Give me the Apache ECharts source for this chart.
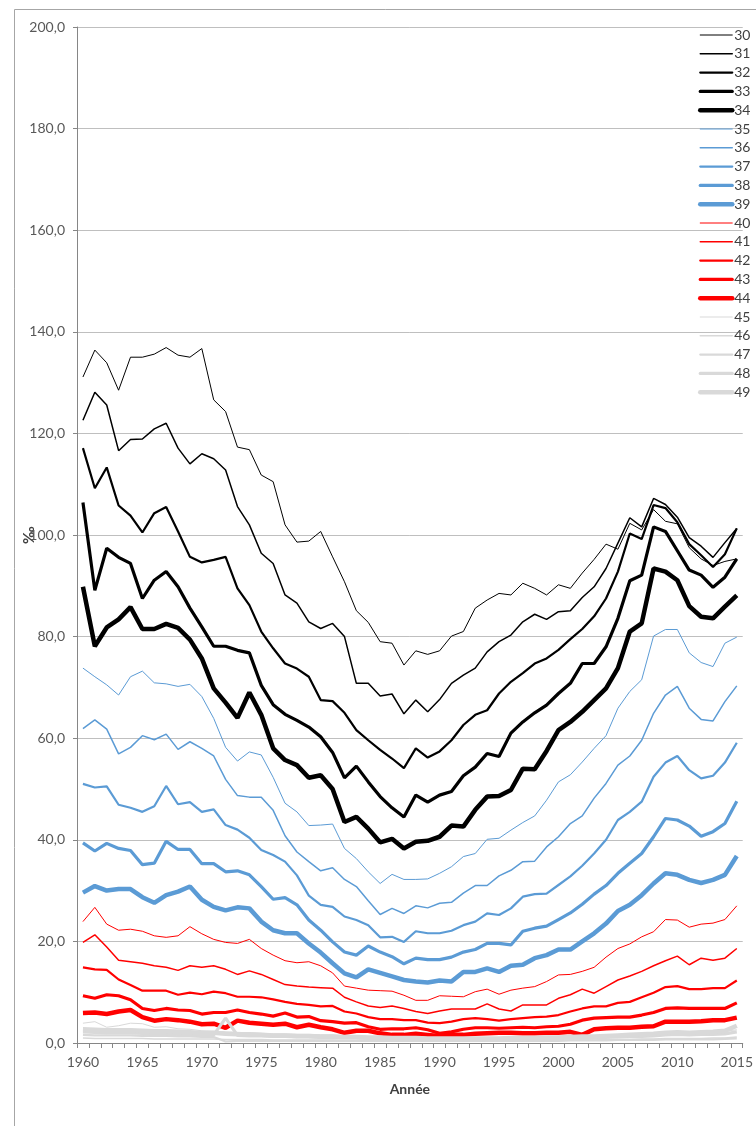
<!DOCTYPE html>
<html>
<head>
<meta charset="utf-8">
<script src="https://cdn.jsdelivr.net/npm/echarts/dist/echarts.min.js"></script>
<style>
  html, body { margin: 0; padding: 0; background: #fff; }
  #chart { width: 756px; height: 1126px; }
</style>
</head>
<body>
<div id="chart"></div>
<script>
// années 1960 -> 2015
var years = [];
for (var y = 1960; y <= 2015; y++) years.push(String(y));

var yTickLabels = ['0,0', '20,0', '40,0', '60,0', '80,0', '100,0', '120,0', '140,0', '160,0', '180,0', '200,0'];

// taux par âge (‰)
var age30 = [131.1,136.4,133.9,128.5,135.0,135.0,135.6,136.9,135.4,135.0,136.7,126.6,124.3,117.3,116.8,111.8,110.5,102.0,98.6,98.8,100.7,95.7,90.8,85.1,82.8,79.0,78.7,74.4,77.2,76.5,77.2,80.1,81.0,85.6,87.2,88.5,88.2,90.5,89.5,88.2,90.2,89.5,92.5,95.2,98.2,97.2,102.3,101.0,105.0,102.7,102.2,97.5,95.3,94.0,94.8,95.3];
var age31 = [122.6,128.1,125.6,116.6,118.8,118.9,120.9,122.0,117.1,114.0,116.0,115.0,112.8,105.6,102.0,96.4,94.4,88.2,86.6,82.9,81.6,82.6,80.0,70.8,70.8,68.3,68.7,64.8,67.5,65.2,67.6,70.8,72.4,73.8,77.0,79.0,80.3,82.9,84.4,83.4,84.9,85.1,87.7,89.8,93.4,98.4,103.4,101.6,107.2,106.0,103.5,99.5,97.8,95.6,98.5,101.3];
var age32 = [117.1,109.2,113.3,105.8,103.8,100.5,104.3,105.5,100.7,95.7,94.6,95.1,95.7,89.5,86.2,81.0,77.7,74.7,73.7,72.1,67.5,67.3,65.0,61.6,59.6,57.7,56.0,54.1,58.0,56.2,57.4,59.6,62.6,64.6,65.5,68.8,71.1,72.8,74.7,75.7,77.4,79.5,81.5,84.0,87.5,92.8,100.3,99.2,105.9,105.3,102.5,98.2,96.0,93.7,96.2,101.3];
var age33 = [106.4,89.1,97.4,95.6,94.4,87.5,91.1,92.8,89.8,85.6,81.9,78.1,78.1,77.3,76.8,70.4,66.6,64.7,63.5,62.2,60.3,57.2,52.2,54.5,51.4,48.5,46.3,44.5,48.8,47.4,48.8,49.5,52.6,54.3,57.0,56.4,61.0,63.2,65.0,66.5,68.8,70.8,74.7,74.7,78.0,83.6,91.0,92.1,101.6,100.7,96.9,93.1,92.1,89.7,91.7,95.3];
var age34 = [89.8,78.1,81.8,83.4,85.8,81.5,81.5,82.5,81.7,79.4,75.7,69.8,67.0,64.0,69.0,64.6,58.0,55.7,54.7,52.2,52.7,50.0,43.5,44.5,42.2,39.5,40.2,38.3,39.6,39.8,40.6,42.8,42.6,45.9,48.5,48.6,49.8,54.0,53.9,57.5,61.6,63.2,65.2,67.5,69.8,73.8,81.0,82.6,93.4,92.8,91.1,86.0,83.9,83.6,85.9,88.1];
var age35 = [73.8,72.1,70.5,68.5,72.1,73.2,70.9,70.7,70.2,70.6,68.2,63.9,58.2,55.5,57.3,56.7,52.3,47.2,45.5,42.8,42.9,43.1,38.3,36.3,33.7,31.4,33.2,32.2,32.2,32.3,33.4,34.7,36.7,37.3,40.1,40.3,41.9,43.4,44.7,47.8,51.4,52.8,55.3,58.0,60.5,65.9,69.2,71.5,80.1,81.4,81.4,76.8,74.9,74.1,78.7,79.9];
var age36 = [61.9,63.6,61.8,56.9,58.2,60.5,59.7,60.8,57.8,59.3,58.0,56.5,51.9,48.7,48.4,48.4,45.8,40.8,37.6,35.7,33.9,34.5,32.2,30.8,28.0,25.3,26.5,25.5,27.0,26.6,27.5,27.7,29.5,31.0,31.0,32.9,34.0,35.7,35.8,38.6,40.6,43.2,44.7,48.2,51.1,54.7,56.5,59.6,64.9,68.5,70.2,65.9,63.7,63.4,67.2,70.3];
var age37 = [51.0,50.3,50.5,46.9,46.3,45.5,46.6,50.6,47.0,47.4,45.5,46.0,42.9,42.0,40.4,38.0,37.0,35.7,33.0,29.0,27.2,26.8,24.9,24.2,23.2,20.8,20.9,19.9,22.0,21.6,21.6,22.1,23.2,23.9,25.5,25.2,26.5,28.8,29.3,29.4,31.1,32.8,34.9,37.3,40.0,43.9,45.5,47.5,52.4,55.2,56.5,53.7,52.1,52.6,55.2,59.1];
var age38 = [39.4,37.8,39.3,38.3,37.9,35.1,35.4,39.7,38.1,38.1,35.3,35.3,33.7,33.9,33.1,30.8,28.3,28.6,27.2,24.2,22.2,19.9,17.9,17.3,19.1,17.9,17.0,15.6,16.7,16.4,16.4,16.9,17.9,18.4,19.6,19.6,19.3,22.0,22.6,23.0,24.3,25.6,27.3,29.3,31.0,33.4,35.4,37.3,40.6,44.2,43.9,42.7,40.7,41.6,43.2,47.6];
var age39 = [29.6,30.9,30.0,30.3,30.3,28.7,27.6,29.1,29.8,30.8,28.2,26.8,26.1,26.7,26.5,23.9,22.2,21.6,21.6,19.6,17.8,15.7,13.7,12.9,14.5,13.8,13.1,12.4,12.1,11.9,12.3,12.1,14.0,14.0,14.7,14.0,15.2,15.4,16.7,17.3,18.4,18.4,20.0,21.6,23.5,26.0,27.2,29.1,31.4,33.4,33.1,32.1,31.5,32.1,33.1,36.8];
var age40 = [23.9,26.7,23.4,22.2,22.4,22.0,21.1,20.8,21.1,22.9,21.5,20.4,19.8,19.6,20.4,18.6,17.3,16.2,15.8,16.0,15.2,13.8,11.2,10.8,10.4,10.3,10.2,9.4,8.4,8.4,9.3,9.2,9.1,10.1,10.6,9.6,10.4,10.8,11.1,12.1,13.4,13.5,14.1,14.9,16.9,18.6,19.5,20.9,21.9,24.3,24.2,22.8,23.4,23.6,24.3,27.0];
var age41 = [19.8,21.3,18.9,16.3,16.0,15.7,15.2,14.9,14.3,15.2,14.9,15.2,14.5,13.5,14.2,13.5,12.5,11.5,11.2,11.0,10.9,10.8,9.0,8.1,7.3,7.0,7.3,6.8,6.2,5.8,6.3,6.7,6.7,6.7,7.7,6.7,6.3,7.5,7.5,7.5,8.8,9.5,10.6,9.8,11.1,12.4,13.2,14.1,15.2,16.2,17.1,15.4,16.7,16.3,16.7,18.6];
var age42 = [14.9,14.5,14.4,12.5,11.4,10.3,10.3,10.3,9.5,9.9,9.6,10.1,9.8,9.1,9.1,9.0,8.6,8.1,7.7,7.5,7.2,7.3,6.2,5.8,5.1,4.7,4.7,4.5,4.5,4.0,3.9,4.2,4.7,4.9,4.7,4.4,4.7,4.9,5.1,5.2,5.5,6.2,6.8,7.2,7.2,7.9,8.1,9.0,9.9,11.0,11.2,10.6,10.6,10.8,10.8,12.3];
var age43 = [9.3,8.8,9.5,9.3,8.5,6.8,6.4,6.8,6.5,6.4,5.7,6.0,6.0,6.5,6.0,5.7,5.3,5.9,5.1,5.2,4.4,4.2,3.9,4.0,3.2,2.7,2.8,2.8,3.0,2.6,1.9,2.2,2.7,3.0,3.0,2.9,3.0,3.1,3.0,3.2,3.3,3.7,4.5,4.9,5.0,5.1,5.1,5.5,6.0,6.8,6.9,6.8,6.8,6.8,6.8,7.9];
var age44 = [5.9,6.0,5.7,6.2,6.5,5.1,4.4,4.7,4.5,4.2,3.7,3.8,3.0,4.4,4.0,3.8,3.6,3.8,3.1,3.6,3.1,2.7,2.0,2.4,2.4,1.9,1.6,1.6,1.8,1.6,1.4,1.6,1.6,1.8,1.9,2.0,2.0,1.9,1.9,2.0,2.0,2.2,1.6,2.7,2.9,3.0,3.0,3.2,3.3,4.2,4.2,4.2,4.3,4.5,4.5,5.0];
var age45 = [3.9,4.2,3.1,3.4,3.9,3.8,3.1,3.2,2.8,2.7,2.4,2.3,2.2,2.1,2.0,1.9,1.8,1.8,1.7,1.7,1.6,1.6,1.4,1.4,1.3,1.2,1.2,1.1,1.1,1.0,1.0,1.0,1.0,1.0,1.0,1.0,1.0,1.1,1.1,1.1,1.2,1.3,1.3,1.4,1.5,1.6,1.6,1.7,1.8,2.0,2.1,2.0,2.1,2.2,2.3,2.6];
var age46 = [1.0,0.9,0.9,0.9,0.9,0.9,0.8,0.8,0.8,0.8,0.8,0.8,0.7,0.7,0.7,0.7,0.6,0.6,0.6,0.6,0.6,0.6,0.5,0.5,0.5,0.5,0.5,0.5,0.5,0.5,0.5,0.5,0.5,0.5,0.5,0.5,0.5,0.5,0.5,0.5,0.5,0.6,0.6,0.6,0.7,0.7,0.7,0.8,0.8,0.9,0.9,0.9,0.9,1.0,1.0,1.2];
var age47 = [1.6,1.5,1.5,1.5,1.5,1.4,1.4,1.4,1.3,1.3,1.2,1.2,0.3,0.4,0.4,0.4,0.4,0.4,0.4,0.4,0.4,0.4,0.4,0.4,0.4,0.4,0.4,0.4,0.4,0.4,0.4,0.4,0.4,0.4,0.4,0.4,0.4,0.4,0.4,0.4,0.4,0.5,0.5,0.5,0.5,0.6,0.6,0.6,0.6,0.7,0.7,0.7,0.7,0.7,0.8,0.9];
var age48 = [2.2,2.1,2.0,2.0,2.0,1.9,1.8,1.8,1.7,1.7,1.6,1.6,4.9,1.5,1.4,1.4,1.3,1.3,1.2,1.2,1.1,1.1,1.0,1.0,0.9,0.9,0.9,0.8,0.8,0.8,0.8,0.8,0.8,0.8,0.8,0.8,0.8,0.8,0.9,0.9,0.9,1.0,1.0,1.1,1.1,1.2,1.3,1.3,1.4,1.6,1.7,1.6,1.7,1.7,1.8,2.2];
var age49 = [2.7,2.6,2.5,2.5,2.5,2.4,2.3,2.3,2.2,2.1,2.0,2.0,1.8,1.7,1.7,1.6,1.5,1.5,1.4,1.4,1.3,1.3,1.2,1.2,1.1,1.1,1.0,1.0,1.0,0.9,0.9,0.9,0.9,0.9,0.9,0.9,1.0,1.0,1.0,1.1,1.1,1.2,1.3,1.3,1.4,1.5,1.6,1.7,1.8,2.0,2.1,2.0,2.1,2.2,2.4,3.4];

var ages = ['30','31','32','33','34','35','36','37','38','39','40','41','42','43','44','45','46','47','48','49'];
var values = [age30,age31,age32,age33,age34,age35,age36,age37,age38,age39,age40,age41,age42,age43,age44,age45,age46,age47,age48,age49];
var groupColors = ['#000000', '#5b9bd5', '#ff0000', '#d9d9d9'];
var widths = [1, 1.5, 2.2, 3.2, 4.5];

var series = ages.map(function (name, i) {
    var c = groupColors[Math.floor(i / 5)];
    return {
        name: name,
        type: 'line',
        data: values[i],
        symbol: 'none',
        showSymbol: false,
        lineStyle: { color: c, width: widths[i % 5] },
        itemStyle: { color: c },
        emphasis: { disabled: true }
    };
});

var myChart = echarts.init(document.getElementById('chart'));
var font = 'Lato, "Liberation Sans", sans-serif';

var option = {
    animation: false,
    backgroundColor: '#fff',
    textStyle: { fontFamily: font },
    graphic: [{
        type: 'rect',
        silent: true,
        shape: { x: 14.5, y: 9.5, width: 900, height: 1300 },
        style: { fill: 'none', stroke: '#a6a6a6', lineWidth: 1 }
    }],
    grid: { left: 77, top: 27, right: 10, bottom: 83 },
    legend: {
        orient: 'vertical',
        left: 698,
        top: 28,
        padding: 0,
        itemWidth: 32,
        itemHeight: 14,
        itemGap: 4.8,
        data: ages,
        itemStyle: { opacity: 0 },
        lineStyle: { width: 'inherit', cap: 'round' },
        textStyle: { fontFamily: font, fontSize: 14, color: '#404040', lineHeight: 14, padding: [0, 0, 0, -3] }
    },
    xAxis: {
        type: 'category',
        data: years,
        boundaryGap: true,
        name: 'Année',
        nameLocation: 'middle',
        nameGap: 39,
        nameMoveOverlap: false,
        nameTextStyle: { fontFamily: font, fontSize: 14, fontWeight: 'bold', color: '#404040' },
        axisLine: { lineStyle: { color: '#868686' } },
        axisTick: { show: true, interval: 0, length: 5, lineStyle: { color: '#868686' } },
        axisLabel: { interval: 4, margin: 12, fontSize: 14, color: '#595959', fontFamily: font },
        splitLine: { show: false }
    },
    yAxis: {
        type: 'value',
        min: 0,
        max: 200,
        interval: 20,
        name: '‰',
        nameLocation: 'middle',
        nameRotate: 90,
        nameGap: 40,
        nameMoveOverlap: false,
        nameTextStyle: { fontFamily: font, fontSize: 15, fontWeight: 'bold', color: '#404040' },
        axisLine: { show: true, lineStyle: { color: '#868686' } },
        axisTick: { show: true, length: 4, lineStyle: { color: '#868686' } },
        axisLabel: {
            margin: 12, fontSize: 14, color: '#595959', fontFamily: font,
            formatter: function (v) { return yTickLabels[Math.round(v / 20)]; }
        },
        splitLine: { lineStyle: { color: '#bfbfbf', width: 1 } }
    },
    series: series
};
myChart.setOption(option);
</script>
</body>
</html>
